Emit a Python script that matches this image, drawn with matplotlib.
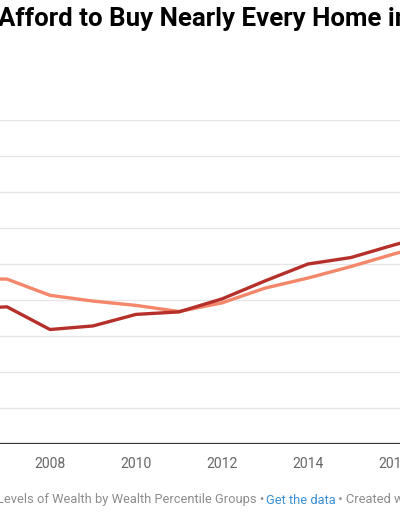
import matplotlib
matplotlib.use("Agg")
import matplotlib.pyplot as plt

# values (y axis labels are cropped away, units are relative)
years = [2006, 2007, 2008, 2009, 2010, 2011, 2012, 2013, 2014, 2015, 2016, 2017]
dark_series = [37.5, 38.1, 31.8, 32.8, 36.0, 36.7, 40.3, 45.3, 50.0, 51.8, 55.3, 58.5]
light_series = [46.0, 45.8, 41.3, 39.7, 38.5, 36.8, 39.2, 43.3, 46.1, 49.3, 52.8, 56.0]
tick_years = [2008, 2010, 2012, 2014, 2016]
grid_values = [10, 20, 30, 40, 50, 60, 70, 80, 90]

title = "Afford to Buy Nearly Every Home in"
footer_left = "Levels of Wealth by Wealth Percentile Groups \u2022 "
footer_link = "Get the data"
footer_right = " \u2022 Created with Datawrapper"

plt.rcParams['font.family'] = ['Roboto', 'DejaVu Sans']

W, H = 400, 516
fig = plt.figure(figsize=(W / 100, H / 100), dpi=100)

# axes spans the full width, the chart is cropped at both sides
x0 = 2008 - 50 / 43
x1 = x0 + W / 43
ax = fig.add_axes([0, (H - 444) / H, 1, (444 - 120) / H])
ax.set_xlim(x0, x1)
ax.set_ylim(0, 90)

for g in grid_values:
    ax.axhline(g, color="#e6e6e6", lw=1.0, zorder=0)
ax.axhline(0, color="#333333", lw=1.6, zorder=3)

ax.plot(years, light_series, color="#f4866a", lw=2.4, solid_capstyle="round", zorder=2)
ax.plot(years, dark_series, color="#b5302b", lw=2.4, solid_capstyle="round", zorder=2)

ax.set_xticks(tick_years)
ax.set_xticklabels([str(t) for t in tick_years], fontsize=10.1, color="#666666")
ax.tick_params(axis="x", length=0, pad=9)
ax.set_yticks([])
for s in ax.spines.values():
    s.set_visible(False)

fig.text(-2 / W, 1 - 19 / H, title, fontsize=18.6, fontweight="bold",
         color="#000000", ha="left", va="center")

fs = 9.3
t1 = fig.text(-3 / W, 1 - 500 / H, footer_left, fontsize=fs, color="#8c8c8c",
              ha="left", va="center")
fig.canvas.draw()
r = fig.canvas.get_renderer()
bb = t1.get_window_extent(r)
t2 = fig.text((bb.x1 - 2) / W, 1 - 500 / H, footer_link, fontsize=fs, color="#3a8fd6",
              ha="left", va="center")
bb2 = t2.get_window_extent(r)
fig.text(bb2.x1 / W, 1 - 500 / H, footer_right, fontsize=fs, color="#8c8c8c",
         ha="left", va="center")

fig.savefig("out.png", dpi=100)
